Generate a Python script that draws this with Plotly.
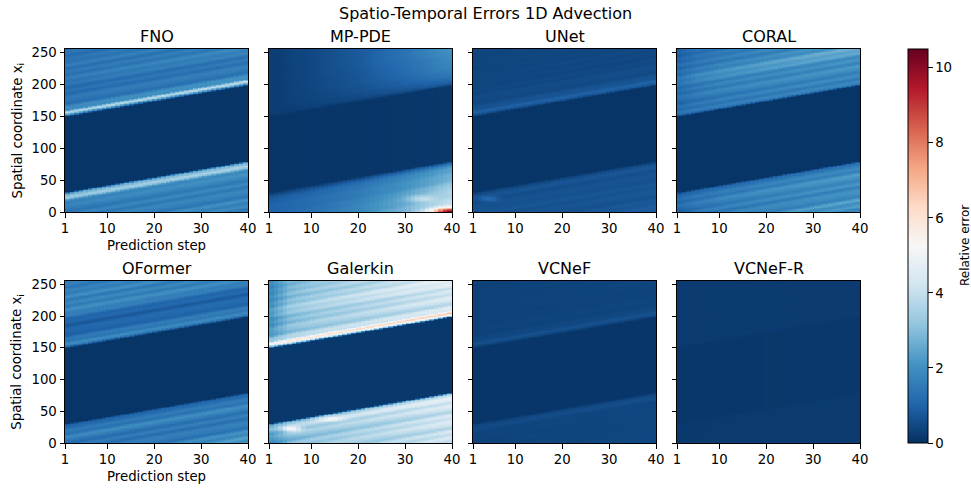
import numpy as np
import plotly.graph_objects as go

W, H = 971, 489

# ---------------- data ----------------
MODELS = ["FNO", "MP-PDE", "UNet", "CORAL", "OFormer", "Galerkin", "VCNeF", "VCNeF-R"]
STEPS = np.arange(1, 41)          # prediction steps
X_COORD = np.arange(256)          # spatial coordinate index
SHIFT = 48.0                      # advection of the error pattern over the 39 steps
X_TICKS = [1, 10, 20, 30, 40]
Y_TICKS = [0, 50, 100, 150, 200, 250]
CB_TICKS = [0, 2, 4, 6, 8, 10]
Z_MAX = 10.5

# error profile across the co-moving coordinate u (= x at step 1)
U_KNOTS = [-50, -30, -10, 0, 10, 18, 23, 28, 31, 149, 152, 156, 160, 168, 185, 205, 230, 256]
T_KNOTS = [1, 5, 10, 20, 30, 40]

FNO_START = [1.5, 1.5, 1.5, 1.4, 1.5, 2.0, 3.3, 2.6, 0.1, 0.1, 1.8, 3.4, 2.0, 1.4, 1.2, 1.3, 1.4, 1.2]
FNO_END = [1.6, 1.7, 1.6, 1.6, 1.8, 2.3, 3.5, 2.8, 0.1, 0.1, 2.0, 3.6, 2.2, 1.5, 1.4, 1.6, 1.5, 1.4]
MPPDE_START = [1.0, 1.0, 1.0, 1.0, 1.0, 0.9, 0.7, 0.35, 0.1, 0.1, 0.2, 0.25, 0.25, 0.25, 0.25, 0.25, 0.25, 0.25]
MPPDE_END = [4.5, 3.8, 3.4, 2.8, 2.6, 2.4, 2.0, 1.1, 0.15, 0.15, 0.7, 1.0, 1.2, 1.5, 1.8, 2.0, 2.1, 2.1]
UNET_START = [0.6, 0.6, 0.6, 0.7, 0.55, 0.55, 0.65, 0.45, 0.1, 0.1, 0.55, 0.9, 0.7, 0.5, 0.45, 0.4, 0.4, 0.4]
UNET_END = [0.9, 0.7, 0.7, 0.65, 0.65, 0.65, 0.75, 0.5, 0.1, 0.1, 0.7, 0.95, 0.75, 0.55, 0.5, 0.45, 0.45, 0.45]
CORAL_START = [1.0, 1.0, 1.0, 1.0, 1.1, 1.2, 1.1, 0.9, 0.1, 0.1, 1.0, 1.3, 1.2, 1.1, 1.2, 1.3, 1.1, 0.9]
CORAL_END = [1.9, 2.1, 1.8, 1.9, 2.0, 1.8, 1.6, 1.3, 0.1, 0.1, 1.4, 1.7, 1.6, 1.8, 1.9, 2.4, 1.8, 1.8]
OFORMER_START = [1.3, 1.3, 1.3, 1.2, 1.6, 1.4, 1.2, 1.0, 0.1, 0.1, 1.1, 1.8, 1.5, 1.1, 0.8, 1.6, 1.7, 1.4]
OFORMER_END = [2.4, 1.7, 1.4, 1.4, 1.7, 1.5, 1.3, 1.1, 0.1, 0.1, 1.2, 1.7, 1.6, 1.2, 0.9, 1.6, 1.7, 1.5]
GALERKIN_START = [2.0, 2.0, 2.0, 1.9, 2.2, 2.6, 3.0, 2.6, 0.15, 0.15, 3.0, 5.2, 3.4, 2.4, 2.0, 2.2, 1.9, 1.8]
GALERKIN_END = [4.3, 3.9, 4.3, 3.8, 4.2, 4.4, 4.7, 3.6, 0.15, 0.15, 4.3, 6.4, 4.6, 4.0, 4.2, 4.5, 4.2, 4.1]
VCNEF_START = [0.35, 0.35, 0.35, 0.35, 0.35, 0.4, 0.5, 0.4, 0.12, 0.12, 0.4, 0.6, 0.45, 0.35, 0.33, 0.33, 0.33, 0.33]
VCNEF_END = [0.45, 0.42, 0.42, 0.42, 0.42, 0.45, 0.6, 0.45, 0.12, 0.12, 0.45, 0.65, 0.5, 0.4, 0.38, 0.38, 0.38, 0.38]
VCNEFR_START = [0.18, 0.18, 0.18, 0.18, 0.18, 0.18, 0.2, 0.18, 0.14, 0.14, 0.18, 0.21, 0.2, 0.2, 0.2, 0.2, 0.2, 0.2]
VCNEFR_END = [0.2, 0.2, 0.2, 0.2, 0.2, 0.2, 0.21, 0.2, 0.15, 0.15, 0.2, 0.22, 0.21, 0.21, 0.21, 0.21, 0.21, 0.21]

PROFILE_START = {"FNO": FNO_START, "MP-PDE": MPPDE_START, "UNet": UNET_START, "CORAL": CORAL_START,
                 "OFormer": OFORMER_START, "Galerkin": GALERKIN_START, "VCNeF": VCNEF_START, "VCNeF-R": VCNEFR_START}
PROFILE_END = {"FNO": FNO_END, "MP-PDE": MPPDE_END, "UNet": UNET_END, "CORAL": CORAL_END,
               "OFormer": OFORMER_END, "Galerkin": GALERKIN_END, "VCNeF": VCNEF_END, "VCNeF-R": VCNEFR_END}
# how far each model has moved from the start profile to the end profile at T_KNOTS
BLEND = {"FNO": [0, 0.2, 0.4, 0.6, 0.8, 1], "MP-PDE": [0, 0.05, 0.12, 0.3, 0.6, 1],
         "UNet": [0, 0.2, 0.4, 0.6, 0.8, 1], "CORAL": [0, 0.35, 0.55, 0.75, 0.9, 1],
         "OFormer": [0, 0.2, 0.4, 0.6, 0.8, 1], "Galerkin": [0, 0.4, 0.55, 0.7, 0.85, 1],
         "VCNeF": [0, 0.2, 0.4, 0.6, 0.8, 1], "VCNeF-R": [0, 0.2, 0.4, 0.6, 0.8, 1]}
# local hot spots: (step, x, step width, x width, extra error)
SPOTS = {"MP-PDE": [(40, 0, 4, 6, 5.5), (34, 20, 3, 5, 1.0)],
         "UNet": [(4, 20, 2, 4, 0.6)],
         "Galerkin": [(5.5, 22, 2.0, 4, 2.2), (14, 38, 3, 4, 1.0)]}
# thin streaks along the characteristics (relative modulation at u = -50, -45, ..., 255)
STREAK_U = list(range(-50, 260, 5))
STREAK = [0.3, -0.5, 0.6, -0.2, 0.8, -0.6, 0.1, 0.5, -0.4, 0.7, -0.3, 0.2, 0.6, -0.5, 0.4, -0.1,
          0, 0, 0, 0, 0, 0, 0, 0, 0, 0, 0, 0, 0, 0, 0, 0, 0, 0, 0, 0, 0, 0, 0, 0,
          0.1, 0.5, -0.3, 0.6, -0.5, 0.2, 0.7, -0.4, 0.3, -0.6, 0.5, 0.0, 0.8, -0.3, 0.4, -0.5,
          0.6, -0.2, 0.3, -0.4, 0.5, 0.1]
STREAK_AMP = {"FNO": 0.3, "MP-PDE": 0.05, "UNet": 0.2, "CORAL": 0.3, "OFormer": 0.35,
              "Galerkin": 0.18, "VCNeF": 0.15, "VCNeF-R": 0.05}

# matplotlib RdBu_r
RDBU_R = ["rgb(5,48,97)", "rgb(33,102,172)", "rgb(67,147,195)", "rgb(146,197,222)",
          "rgb(209,229,240)", "rgb(247,247,247)", "rgb(253,219,199)", "rgb(244,165,130)",
          "rgb(214,96,77)", "rgb(178,24,43)", "rgb(103,0,31)"]


def build(m):
    T, X = np.meshgrid(STEPS, X_COORD)
    U = X - SHIFT * (T - 1) / 39.0
    ps = np.interp(U, U_KNOTS, PROFILE_START[m])
    pe = np.interp(U, U_KNOTS, PROFILE_END[m])
    b = np.interp(T, T_KNOTS, BLEND[m])
    Z = ps + (pe - ps) * b
    floor = PROFILE_START[m][8]
    s = np.interp(U, STREAK_U, STREAK)
    Z = floor + (Z - floor) * (1 + STREAK_AMP[m] * s)
    for (tc, xc, tw, xw, a) in SPOTS.get(m, []):
        Z = Z + a * np.exp(-((T - tc) / tw) ** 2 - ((X - xc) / xw) ** 2)
    return np.clip(Z, 0, Z_MAX)


# ---------------- layout (pixels) ----------------
COL_X = [(65, 248), (269, 452), (473, 656), (677, 860)]
ROW_Y = [(49, 212), (280.5, 443)]
FONT = "DejaVu Sans"

fig = go.Figure()
x_centers = 1 + (STEPS - 0.5) * 39.0 / 40.0
y_centers = X_COORD + 0.5
annotations = []
for k, m in enumerate(MODELS):
    r, c = divmod(k, 4)
    idx = k + 1
    xa = "x" if idx == 1 else f"x{idx}"
    ya = "y" if idx == 1 else f"y{idx}"
    fig.add_trace(go.Heatmap(z=build(m), x=x_centers, y=y_centers, coloraxis="coloraxis",
                             xaxis=xa, yaxis=ya, hoverinfo="skip"))
    x0, x1 = COL_X[c]
    y0, y1 = ROW_Y[r]
    axis_common = dict(showline=True, linecolor="black", linewidth=1, mirror=True,
                       ticks="outside", ticklen=4.5, tickwidth=1, tickcolor="black",
                       showgrid=False, zeroline=False, automargin=False,
                       tickfont=dict(family=FONT, size=13.3, color="black"))
    fig.layout[f"xaxis{'' if idx == 1 else idx}"] = dict(
        domain=[x0 / W, x1 / W], anchor=ya, range=[1, 40], tickvals=X_TICKS, **axis_common)
    fig.layout[f"yaxis{'' if idx == 1 else idx}"] = dict(
        domain=[1 - y1 / H, 1 - y0 / H], anchor=xa, range=[0, 256], tickvals=Y_TICKS,
        showticklabels=(c == 0), **axis_common)
    annotations.append(dict(text=m, x=(x0 + x1) / 2 / W, y=1 - (y0 - 12) / H, xref="paper", yref="paper",
                            xanchor="center", yanchor="middle", showarrow=False,
                            font=dict(family=FONT, size=16, color="black")))
    if c == 0:
        annotations.append(dict(text="Spatial coordinate x<sub>i</sub>", x=18 / W, y=1 - (y0 + y1) / 2 / H,
                                xref="paper", yref="paper", xanchor="center", yanchor="middle",
                                textangle=-90, showarrow=False,
                                font=dict(family=FONT, size=13.3, color="black")))
        annotations.append(dict(text="Prediction step", x=(x0 + x1) / 2 / W, y=1 - (y1 + 33) / H,
                                xref="paper", yref="paper", xanchor="center", yanchor="middle",
                                showarrow=False, font=dict(family=FONT, size=13.3, color="black")))

annotations.append(dict(text="Spatio-Temporal Errors 1D Advection", x=485.5 / W, y=1 - 14 / H,
                        xref="paper", yref="paper", xanchor="center", yanchor="middle",
                        showarrow=False, font=dict(family=FONT, size=16, color="black")))
annotations.append(dict(text="Relative error", x=965 / W, y=1 - 246 / H, xref="paper", yref="paper",
                        xanchor="center", yanchor="middle", textangle=-90, showarrow=False,
                        font=dict(family=FONT, size=12, color="black")))

cs = [[i / (len(RDBU_R) - 1), col] for i, col in enumerate(RDBU_R)]
fig.update_layout(
    template="none",
    width=W, height=H, margin=dict(l=0, r=0, t=0, b=0, pad=0, autoexpand=False),
    paper_bgcolor="white", plot_bgcolor="white",
    font=dict(family=FONT, color="black"),
    annotations=annotations,
    coloraxis=dict(colorscale=cs, cmin=0, cmax=Z_MAX,
                   colorbar=dict(x=908 / W, xanchor="left", xpad=0, ypad=0,
                                 y=1 - 443 / H, yanchor="bottom", len=(443 - 49) / H, lenmode="fraction",
                                 thickness=20, thicknessmode="pixels",
                                 outlinewidth=1, outlinecolor="black",
                                 ticks="outside", ticklen=4.5, tickwidth=1, tickcolor="black",
                                 tickvals=CB_TICKS, tickfont=dict(family=FONT, size=13.3, color="black"))),
)
fig.write_html("out.html")
